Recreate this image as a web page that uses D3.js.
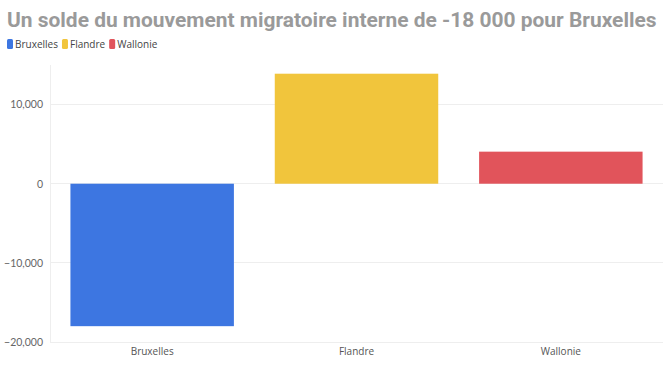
<!DOCTYPE html>
<html><head><meta charset="utf-8">
<script src="https://cdn.jsdelivr.net/npm/d3@7"></script>
<style>body{margin:0;background:#fff;} svg{display:block;}</style>
</head><body>
<svg id="c" width="672" height="366"></svg>
<script>
const categories = ["Bruxelles", "Flandre", "Wallonie"];
const values = [-18000, 13900, 4050];
const colors = ["#3d76e1", "#f1c53c", "#e1545b"];
const yTicks = [-20000, -10000, 0, 10000];
const title = "Un solde du mouvement migratoire interne de -18 000 pour Bruxelles";

const svg = d3.select("#c");
const m = {l: 50, r: 9, t: 65, b: 24};
const W = 672, H = 366;

const tt = svg.append("text").attr("x", 7).attr("y", 27)
  .attr("font-family", "Roboto, sans-serif").attr("font-weight", 700)
  .attr("font-size", 20).attr("fill", "#9a9a9a").text(title);
const tw = tt.node().getComputedTextLength();
tt.attr("font-size", 20 * 650 / tw);

// legend
const lg = svg.append("g").attr("transform", "translate(7,39)");
let lx = 0;
categories.forEach((c, i) => {
  const g = lg.append("g").attr("transform", `translate(${lx},0)`);
  g.append("rect").attr("width", 6).attr("height", 10).attr("rx", 1.5).attr("fill", colors[i]);
  const t = g.append("text").attr("x", 8).attr("y", 9).attr("font-family", "Open Sans, sans-serif")
    .attr("font-size", 10).attr("fill", "#444").text(c);
  lx += 8 + t.node().getComputedTextLength() + 4;
});

const x = d3.scaleBand().domain(categories).range([m.l, W - m.r]).paddingInner(0.2).paddingOuter(0.1);
const y = d3.scaleLinear().domain([-20000, 15000]).range([342, 65]);

// grid
svg.append("g").selectAll("line").data(yTicks).join("line")
  .attr("x1", m.l).attr("x2", W - m.r).attr("y1", d => y(d)).attr("y2", d => y(d))
  .attr("stroke", "#eee").attr("stroke-width", 1).attr("shape-rendering", "crispEdges");
svg.append("line").attr("x1", m.l).attr("x2", m.l).attr("y1", y(15000)).attr("y2", y(-20000))
  .attr("stroke", "#eee").attr("shape-rendering", "crispEdges");

// bars
svg.append("g").selectAll("rect").data(categories).join("rect")
  .attr("x", d => x(d)).attr("width", x.bandwidth())
  .attr("y", (d, i) => y(Math.max(0, values[i])))
  .attr("height", (d, i) => Math.abs(y(values[i]) - y(0)))
  .attr("fill", (d, i) => colors[i]);

// y axis
const ya = svg.append("g").attr("transform", `translate(${m.l - 7},0)`)
  .call(d3.axisLeft(y).tickValues(yTicks).tickSize(0).tickPadding(0).tickFormat(d3.format(",")));
ya.select(".domain").remove();
ya.selectAll("text").attr("font-family", "Lato, sans-serif").attr("font-size", 10.5).attr("fill", "#666");

// x axis
const xa = svg.append("g").attr("transform", `translate(0,${342})`)
  .call(d3.axisBottom(x).tickSize(0).tickPadding(6));
xa.select(".domain").remove();
xa.selectAll("text").attr("font-family", "Open Sans, sans-serif").attr("font-size", 10).attr("fill", "#555");
</script>
</body></html>
